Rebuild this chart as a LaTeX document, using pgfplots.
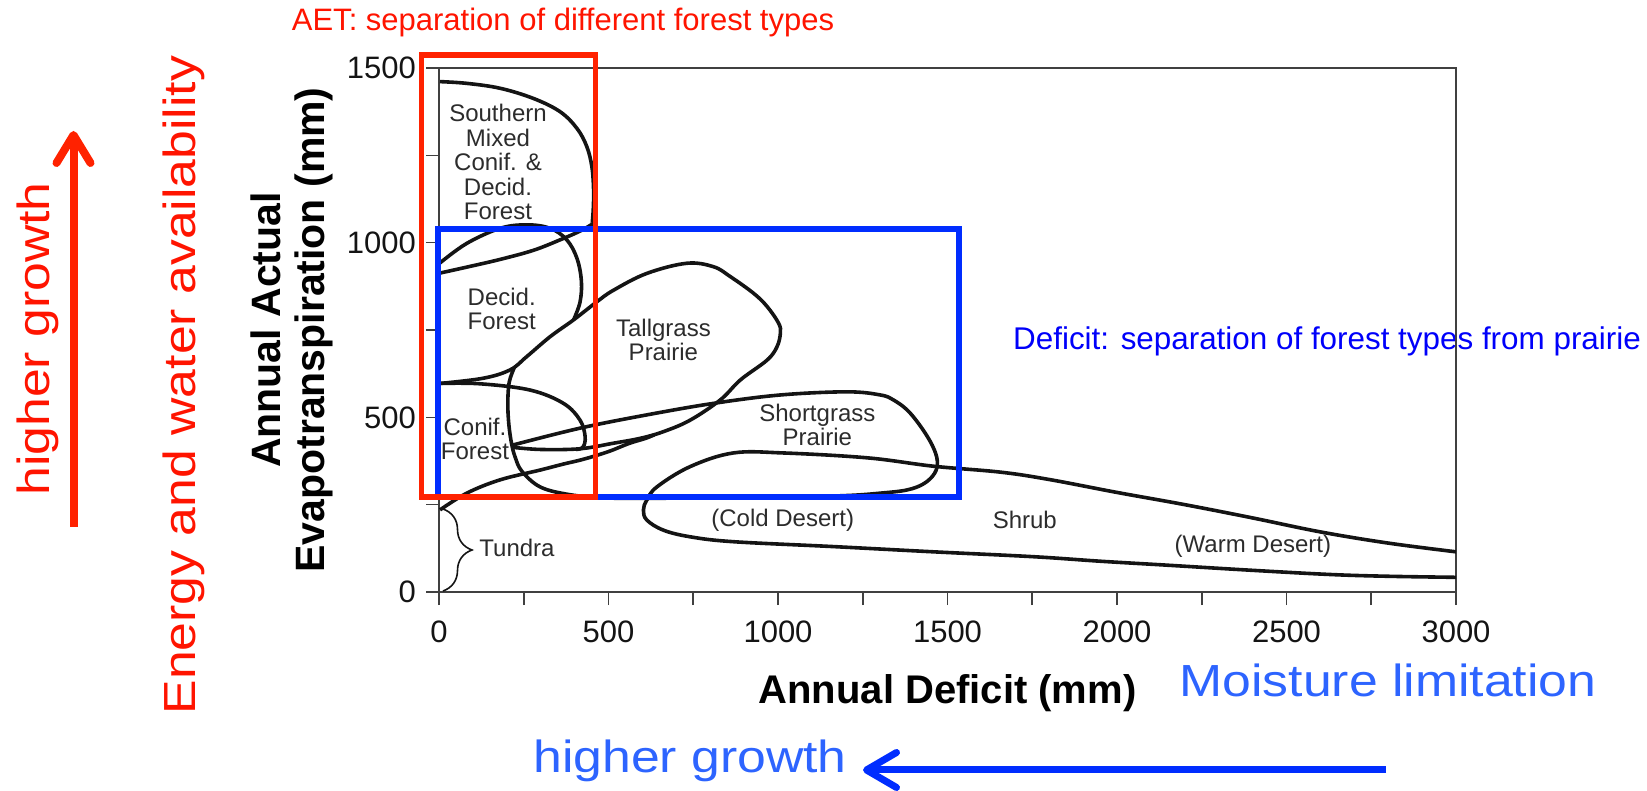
\documentclass[border=0pt]{standalone}
\usepackage{fontspec}
\setmainfont{Liberation Sans}
\usepackage{graphicx}
\usepackage{pgfplots}
\pgfplotsset{compat=1.18}
\usetikzlibrary{arrows.meta,decorations.pathreplacing}

\definecolor{annred}{RGB}{255,34,0}
\definecolor{txtred}{RGB}{255,20,0}
\definecolor{annblue}{RGB}{0,45,255}
\definecolor{txtblue}{RGB}{45,100,255}
\definecolor{defblue}{RGB}{0,0,250}
\definecolor{ink}{RGB}{20,20,20}

\tikzset{lab/.style={font=\fontsize{12}{12.25}\selectfont, text=ink!90, align=center, inner sep=0pt}}
\pgfplotsset{biome/.style={smooth, tension=0.6, line width=1.8pt, ink}}

\begin{document}
\begin{tikzpicture}
\useasboundingbox (0,0) rectangle (823.5pt,395.5pt);
% text that the axis frame runs over
\begin{scope}[x=0.5pt, y=-0.5pt, yshift=395.5pt]
\node[defblue, font=\fontsize{15.7}{17}\selectfont, anchor=base] at (1327,350) {Deficit: separation of forest types from prairie};
\end{scope}
\begin{axis}[
    at={(219.5pt,99.5pt)}, anchor=south west,
    scale only axis, width=508.5pt, height=262pt,
    xmin=0, xmax=3000, ymin=0, ymax=1500,
    xtick={0,500,...,3000}, ytick={0,500,1000,1500},
    minor tick num=1,
    tick align=outside, xtick pos=bottom, ytick pos=left,
    major tick length=6.5pt, minor tick length=6.5pt,
    tick style={black!75, line width=0.8pt},
    axis line style={black!75, line width=0.9pt},
    ticklabel style={font=\fontsize{15.5}{17}\selectfont, text=ink},
    xticklabel style={yshift=-4.5pt},
    yticklabel style={xshift=-1.5pt},
    /pgf/number format/assume math mode=true,
    /pgf/number format/1000 sep={},
    xlabel={Annual Deficit (mm)},
    ylabel={Annual Actual\\Evapotranspiration (mm)},
    xlabel style={font=\bfseries\fontsize{20}{22}\selectfont, at={(axis description cs:0.5,-0.1927)}, anchor=center},
    ylabel style={font=\bfseries\fontsize{20.5}{22}\selectfont, align=center, at={(axis description cs:-0.1445,0.5)}, anchor=center},
    clip=false,
]
% Southern mixed forest, top and right side
\addplot[biome] coordinates {(3,1461) (82,1456) (180,1442) (278,1413) (357,1375) (407,1327) (436,1275) (451,1217) (456,1151) (455,1095) (452,1057)};
% its lower line
\addplot[biome] coordinates {(3,913) (82,930) (180,952) (278,978) (357,1008) (420,1035) (460,1058)};
% deciduous forest
\addplot[biome] coordinates {(3,942) (82,998) (180,1041) (259,1051) (328,1041) (377,1008) (407,955) (420,890) (416,830) (397,779)};
% decid. bottom + tallgrass loop
\addplot[biome] coordinates {(3,597) (131,612) (210,636) (259,674) (328,731) (397,779) (466,831) (515,864) (613,912) (731,941) (810,931) (859,903) (928,855) (968,817) (1002,769) (1007,741) (997,702) (968,664) (889,607) (830,550) (741,492) (662,459) (594,440) (515,426) (416,410) (300,408) (219,414)};
% tallgrass left side + shortgrass loop
\addplot[biome] coordinates {(222,642) (207,600) (203,540) (206,480) (214,425) (225,385) (245,345) (298,301) (377,280) (475,270) (600,268) (800,270) (1000,271) (1200,276) (1302,283) (1380,292) (1430,310) (1462,340) (1470,375) (1455,420) (1420,475) (1381,521) (1340,550) (1302,564) (1204,573) (1007,564) (810,540) (613,507) (416,469) (219,421)};
% coniferous forest
\addplot[biome] coordinates {(3,597) (121,596) (269,578) (367,540) (416,492) (431,445) (425,415) (405,408)};
% lower line from tundra
\addplot[biome] coordinates {(3,235) (82,283) (180,321) (298,349) (366,366) (426,380) (500,402) (560,425) (610,440) (635,450)};
% shrub / deserts
\addplot[biome] coordinates {(3000,115) (2800,140) (2600,172) (2400,212) (2200,250) (2000,285) (1800,322) (1657,343) (1459,360) (1264,384) (1016,398) (868,398) (741,359) (643,301) (613,263) (603,235) (613,206) (662,177) (741,158) (868,144) (1163,130) (1459,115) (1754,101) (1952,88) (2144,77) (2400,62) (2631,50) (2800,45) (3000,42)};

\node[lab] at (axis cs:174,1231) {Southern\\Mixed\\Conif. \&\\Decid.\\Forest};
\node[lab] at (axis cs:185,810) {Decid.\\Forest};
\node[lab] at (axis cs:106,438) {Conif.\\Forest};
\node[lab] at (axis cs:662,721) {Tallgrass\\Prairie};
\node[lab] at (axis cs:1116,478) {Shortgrass\\Prairie};
\node[lab] at (axis cs:1014,206) {(Cold Desert)};
\node[lab] at (axis cs:1728,206) {Shrub};
\node[lab] at (axis cs:2401,130) {(Warm Desert)};
\node[lab] at (axis cs:230,126) {Tundra};
\end{axis}

% annotations, in pixels of the 1647x791 picture
\begin{scope}[x=0.5pt, y=-0.5pt, yshift=395.5pt]
\draw[annblue, line width=3pt] (437.5,229) rectangle (959,497);
\draw[annred, line width=2.8pt] (421.5,55) rectangle (595.5,497);
\draw[ink, line width=0.8pt, decorate, decoration={brace, amplitude=14.5pt}] (443,509) -- (443,591);

\node[txtred, font=\fontsize{15.5}{17}\selectfont, anchor=base] at (563,31) {AET: separation of different forest types};
\node[txtblue, font=\fontsize{22.5}{25}\selectfont, anchor=base] at (1388,697) {\scalebox{1.15}[1]{Moisture limitation}};
\node[txtblue, font=\fontsize{22.5}{25}\selectfont, anchor=base] at (690,773) {\scalebox{1.15}[1]{higher growth}};
\node[txtred, font=\fontsize{22.5}{25}\selectfont, rotate=90] at (38,339) {\scalebox{1.15}[1]{higher growth}};
\node[txtred, font=\fontsize{22.5}{25}\selectfont, rotate=90] at (184,385) {\scalebox{1.15}[1]{Energy and water availability}};

\draw[annred, line width=4pt, -{Straight Barb[length=14pt, width=17pt, round]}] (73.5,527) -- (73.5,131);
\draw[annblue, line width=3.5pt, -{Straight Barb[length=15pt, width=17.5pt, round]}] (1386,770) -- (863,770);
\end{scope}
\end{tikzpicture}
\end{document}
